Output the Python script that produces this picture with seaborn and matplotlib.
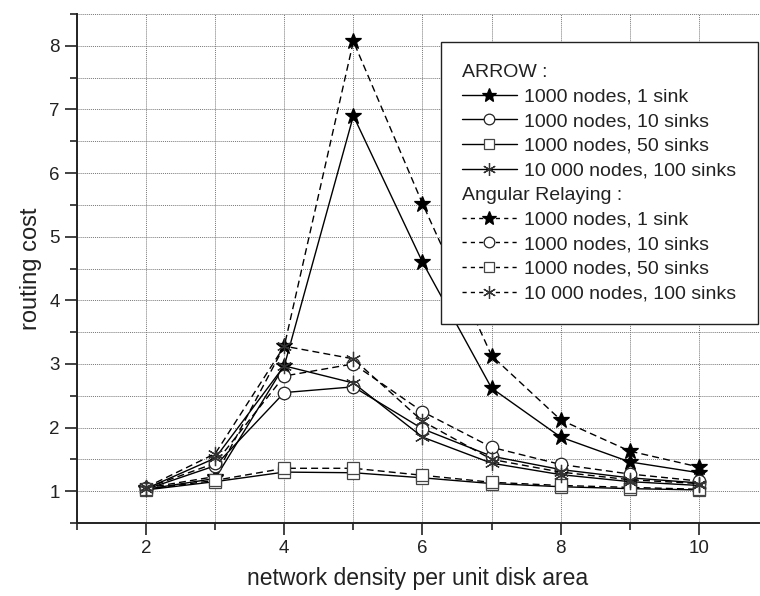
import matplotlib
matplotlib.use("Agg")
import matplotlib.pyplot as plt
from matplotlib.lines import Line2D
from matplotlib.ticker import MultipleLocator
import seaborn as sns
import pandas as pd

density = [2, 3, 4, 5, 6, 7, 8, 9, 10]

arrow_1000_1 = [1.03, 1.20, 2.97, 6.90, 4.60, 2.62, 1.85, 1.46, 1.29]
arrow_1000_10 = [1.03, 1.40, 2.55, 2.64, 1.98, 1.55, 1.34, 1.21, 1.13]
arrow_1000_50 = [1.02, 1.15, 1.30, 1.29, 1.21, 1.12, 1.07, 1.04, 1.02]
arrow_10000_100 = [1.04, 1.52, 2.97, 2.70, 1.85, 1.44, 1.26, 1.15, 1.09]

angular_1000_1 = [1.05, 1.23, 3.28, 8.07, 5.52, 3.13, 2.12, 1.63, 1.38]
angular_1000_10 = [1.05, 1.44, 2.81, 3.00, 2.25, 1.69, 1.42, 1.27, 1.16]
angular_1000_50 = [1.03, 1.17, 1.36, 1.36, 1.25, 1.14, 1.09, 1.06, 1.03]
angular_10000_100 = [1.06, 1.59, 3.28, 3.08, 2.10, 1.50, 1.30, 1.18, 1.12]

labels = ["1000 nodes, 1 sink", "1000 nodes, 10 sinks",
          "1000 nodes, 50 sinks", "10 000 nodes, 100 sinks"]
group_titles = ["ARROW :", "Angular Relaying :"]

sns.set_theme(style="ticks")
plt.rcParams['font.family'] = ['Liberation Sans', 'DejaVu Sans']

fig = plt.figure(figsize=(7.6, 5.96), dpi=100)
ax = fig.add_axes([77 / 760, (596 - 523) / 596, (759 - 77) / 760, (523 - 14) / 596])

markers = ['*', 'o', 's', (6, 2, 0)]
msizes = [12, 9, 8.5, 11]
faces = ['black', 'white', 'white', 'black']
edges = ['black', '#222222', '#444444', '#333333']

series = [
    (arrow_1000_1, arrow_1000_10, arrow_1000_50, arrow_10000_100),
    (angular_1000_1, angular_1000_10, angular_1000_50, angular_10000_100),
]
styles = ['-', (0, (5, 3))]

for gi, group in enumerate(series):
    for si, vals in enumerate(group):
        df = pd.DataFrame({"x": density, "y": vals})
        sns.lineplot(data=df, x="x", y="y", ax=ax, color="black",
                     linestyle=styles[gi], linewidth=1.0,
                     marker=markers[si], markersize=msizes[si],
                     markerfacecolor=faces[si], markeredgecolor=edges[si],
                     markeredgewidth=0.9, zorder=3 + si * 0.1)

ax.set_xlim(1, 10.87)
ax.set_ylim(0.5, 8.5)
ax.xaxis.set_major_locator(MultipleLocator(2))
ax.xaxis.set_minor_locator(MultipleLocator(1))
ax.yaxis.set_major_locator(MultipleLocator(1))
ax.yaxis.set_minor_locator(MultipleLocator(0.5))

ax.grid(True, which='both', linestyle=(0, (1, 1)), color='#777777', linewidth=0.7)
ax.set_axisbelow(True)

for s in ['top', 'right']:
    ax.spines[s].set_visible(False)
for s in ['left', 'bottom']:
    ax.spines[s].set_linewidth(1.4)
    ax.spines[s].set_color('#222222')

ax.tick_params(which='major', direction='out', length=8.5, width=1.2,
               labelsize=13.5, colors='#222222', pad=4)
ax.tick_params(which='minor', direction='out', length=5, width=1.2,
               colors='#222222')

ax.set_xlabel("network density per unit disk area", fontsize=16.5, color='#222222', labelpad=7)
ax.set_ylabel("routing cost", fontsize=17, color='#222222', labelpad=5.5)

handles = []
leg_labels = []
for gi in range(2):
    handles.append(Line2D([], [], linestyle='none', marker=None))
    leg_labels.append(group_titles[gi])
    for si in range(4):
        handles.append(Line2D([], [], color='black', linestyle=styles[gi] if gi == 0 else (0, (3, 3)),
                              linewidth=1.0, marker=markers[si],
                              markersize=msizes[si] * 0.85,
                              markerfacecolor=faces[si], markeredgecolor=edges[si],
                              markeredgewidth=0.9))
        leg_labels.append(labels[si])

leg = ax.legend(handles, leg_labels, loc='upper right',
                bbox_to_anchor=(758 / 760, (596 - 42) / 596),
                bbox_transform=fig.transFigure, borderaxespad=0,
                fontsize=14, frameon=True, fancybox=False, framealpha=1,
                edgecolor='#222222', handlelength=2.8, handletextpad=0.4,
                labelspacing=0.36, borderpad=1.1)
leg.get_frame().set_linewidth(1.0)
for t in leg.get_texts():
    t.set_color('#222222')

try:
    col = leg._legend_handle_box.get_children()[0]
    rows = col.get_children()
    for idx in (0, 5):
        rows[idx].get_children()[0].width = 0
        rows[idx].sep = 0
except Exception:
    pass

fig.savefig("out.png", dpi=100)
